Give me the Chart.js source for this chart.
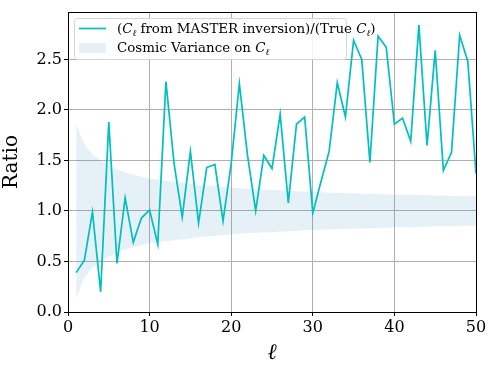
<!DOCTYPE html>
<html><head><meta charset="utf-8">
<script src="https://cdn.jsdelivr.net/npm/chart.js@4.4.0/dist/chart.umd.min.js"></script>
<style>html,body{margin:0;padding:0;background:#fff}</style>
</head><body>
<canvas id="c" width="498" height="374"></canvas>
<script>
const ELL = [1,2,3,4,5,6,7,8,9,10,11,12,13,14,15,16,17,18,19,20,21,22,23,24,25,26,27,28,29,30,31,32,33,34,35,36,37,38,39,40,41,42,43,44,45,46,47,48,49,50];
const RATIO = [0.39,0.51,0.99,0.20,1.88,0.48,1.13,0.69,0.93,1.01,0.67,2.28,1.47,0.94,1.59,0.88,1.43,1.46,0.90,1.47,
  2.26,1.55,1.00,1.55,1.42,1.96,1.08,1.86,1.93,0.98,1.29,1.59,2.27,1.93,2.69,2.50,1.48,2.73,2.62,1.86,
  1.92,1.69,2.84,1.65,2.59,1.40,1.58,2.74,2.48,1.37];
const CV_UPPER = [1.86,1.66,1.56,1.50,1.45,1.41,1.38,1.36,1.34,1.32,1.31,1.30,1.29,1.28,1.27,1.26,1.25,1.245,1.24,1.23,
  1.225,1.22,1.215,1.21,1.21,1.205,1.20,1.195,1.19,1.19,1.185,1.18,1.18,1.175,1.175,1.17,1.17,1.165,1.165,1.16,
  1.16,1.16,1.155,1.155,1.15,1.15,1.15,1.145,1.145,1.145];
const CV_LOWER = [0.14,0.34,0.44,0.50,0.55,0.59,0.62,0.64,0.66,0.68,0.69,0.70,0.71,0.72,0.73,0.74,0.75,0.755,0.76,0.77,
  0.775,0.78,0.785,0.79,0.79,0.795,0.80,0.805,0.81,0.81,0.815,0.82,0.82,0.825,0.825,0.83,0.83,0.835,0.835,0.84,
  0.84,0.84,0.845,0.845,0.85,0.85,0.85,0.855,0.855,0.855];
const X_TICKS = [0,10,20,30,40,50];
const Y_TICKS = [0,0.5,1,1.5,2,2.5];

const CYAN = '#00bfbf', BAND = 'rgba(31,119,180,0.11)', GRID = '#b0b0b0';
const SERIF = '"DejaVu Serif", serif';

const pts = arr => ELL.map((l, i) => ({ x: l, y: arr[i] }));

// frame + legend drawn on top
const frameLegend = {
  id: 'frameLegend',
  afterDraw(chart) {
    const { ctx, chartArea: a } = chart;
    ctx.save();
    ctx.strokeStyle = '#000';
    ctx.lineWidth = 1;
    ctx.strokeRect(Math.round(a.left) + 0.5, Math.round(a.top) + 0.5, Math.round(a.right - a.left), Math.round(a.bottom - a.top));

    // legend box
    const bx = 74, by = 18, bw = 272, bh = 41, r = 3;
    ctx.beginPath();
    ctx.roundRect(bx + 0.5, by + 0.5, bw, bh, r);
    ctx.fillStyle = 'rgba(255,255,255,0.85)';
    ctx.fill();
    ctx.strokeStyle = '#d6d6d6';
    ctx.stroke();

    ctx.strokeStyle = CYAN; ctx.lineWidth = 1.7;
    ctx.beginPath(); ctx.moveTo(79, 28.5); ctx.lineTo(106, 28.5); ctx.stroke();
    ctx.fillStyle = BAND;
    ctx.fillRect(79, 43, 27, 10);

    const parts1 = [['(', 'r'], ['C', 'i'], ['ℓ', 's'], [' from MASTER inversion)/(True ', 'r'], ['C', 'i'], ['ℓ', 's'], [')', 'r']];
    const parts2 = [['Cosmic Variance on ', 'r'], ['C', 'i'], ['ℓ', 's']];
    const drawParts = (parts, x, y) => {
      ctx.fillStyle = '#000';
      ctx.textBaseline = 'alphabetic';
      ctx.textAlign = 'left';
      for (const [t, k] of parts) {
        if (k === 's') { ctx.font = 'italic 9px ' + SERIF; ctx.fillText(t, x, y + 3); }
        else { ctx.font = (k === 'i' ? 'italic ' : '') + '13.4px ' + SERIF; ctx.fillText(t, x, y); }
        x += ctx.measureText(t).width;
      }
    };
    drawParts(parts1, 117, 33);
    drawParts(parts2, 117, 52);
    ctx.restore();
  }
};

new Chart(document.getElementById('c'), {
  type: 'line',
  data: {
    datasets: [
      { label: 'ratio', data: pts(RATIO), borderColor: CYAN, borderWidth: 1.7, pointRadius: 0, fill: false, tension: 0, order: 0 },
      { label: 'lower', data: pts(CV_LOWER), borderWidth: 0, borderColor: 'transparent', pointRadius: 0, fill: false, order: 2 },
      { label: 'upper', data: pts(CV_UPPER), borderWidth: 0, borderColor: 'transparent', pointRadius: 0, fill: '-1', backgroundColor: BAND, order: 1 }
    ]
  },
  options: {
    responsive: false,
    animation: false,
    devicePixelRatio: 1,
    layout: { padding: { top: 12, right: 22, left: 0, bottom: 0 } },
    plugins: { legend: { display: false }, tooltip: { enabled: false } },
    scales: {
      x: {
        type: 'linear', min: 0, max: 50,
        afterBuildTicks: s => { s.ticks = X_TICKS.map(v => ({ value: v })); },
        afterFit: s => { s.height = 62; },
        grid: { color: GRID, lineWidth: 1, tickLength: 4, tickColor: '#000' },
        border: { display: false },
        ticks: { color: '#000', font: { family: SERIF, size: 16 }, padding: 2, maxRotation: 0 },
        title: { display: true, text: 'ℓ', color: '#000', font: { family: SERIF, size: 22, style: 'italic' }, padding: { top: 0, bottom: 8 } }
      },
      y: {
        type: 'linear', min: 0, max: 2.97,
        afterBuildTicks: s => { s.ticks = Y_TICKS.map(v => ({ value: v })); },
        afterFit: s => { s.width = 68; },
        grid: { color: GRID, lineWidth: 1, tickLength: 4, tickColor: '#000' },
        border: { display: false },
        ticks: { color: '#000', font: { family: SERIF, size: 16 }, padding: 2, callback: v => v.toFixed(1) },
        title: { display: true, text: 'Ratio', color: '#000', font: { family: SERIF, size: 20 }, padding: { top: 0, bottom: 4 } }
      }
    }
  },
  plugins: [frameLegend]
});
</script>
</body></html>
